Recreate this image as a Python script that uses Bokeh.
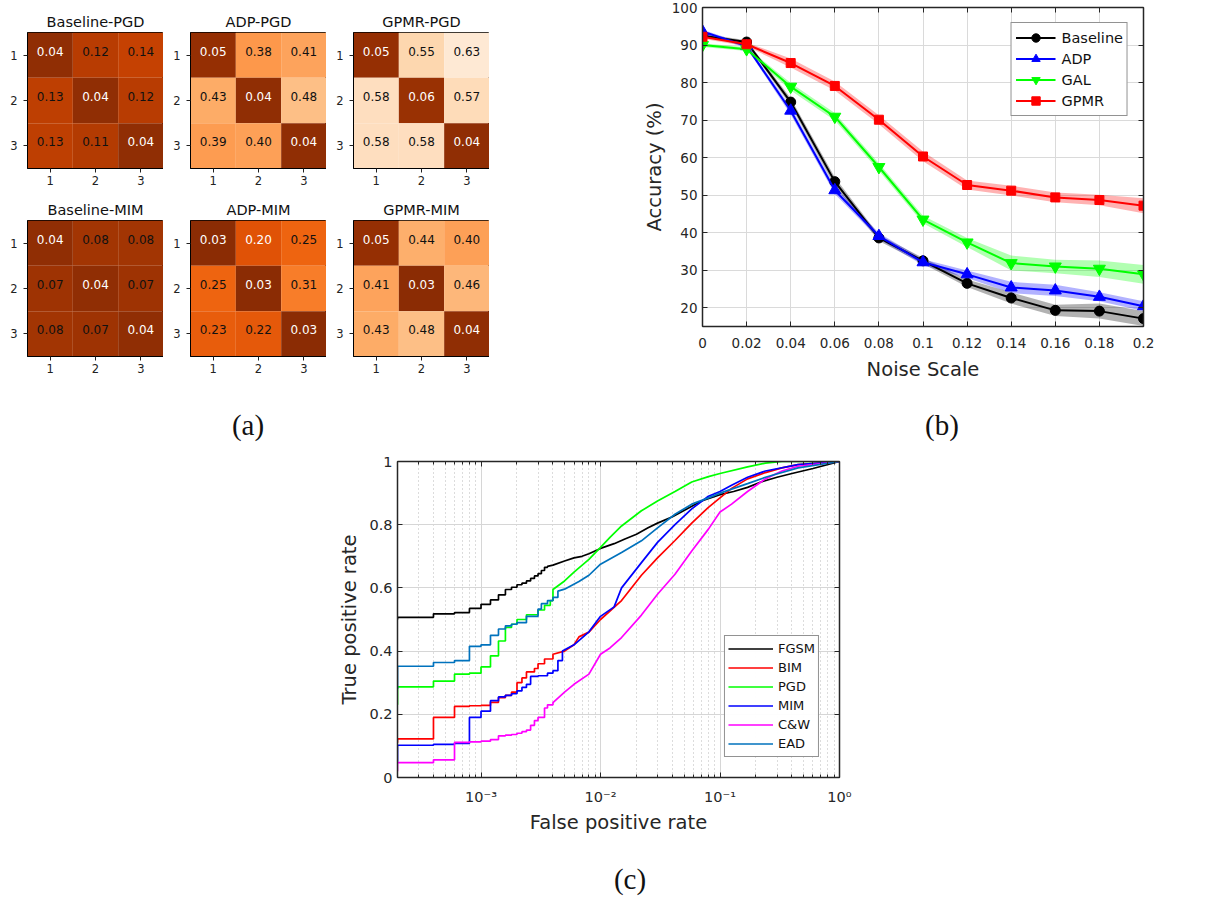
from bokeh.plotting import figure
from bokeh.models import (Range1d, FixedTicker, CustomJSTickFormatter, LinearAxis, LogAxis,
                          ColumnDataSource, Spacer, Div)
from bokeh.layouts import column, row
from bokeh.palettes import Oranges256
from bokeh.transform import linear_cmap
from bokeh.core.properties import value
from bokeh.embed import file_html
from bokeh.resources import INLINE

FONT = "DejaVu Sans"
AX = "#262626"

# ---------------- (a) heatmaps ----------------
hm_titles = ["Baseline-PGD", "ADP-PGD", "GPMR-PGD", "Baseline-MIM", "ADP-MIM", "GPMR-MIM"]
baseline_pgd = [[0.04, 0.12, 0.14], [0.13, 0.04, 0.12], [0.13, 0.11, 0.04]]
adp_pgd = [[0.05, 0.38, 0.41], [0.43, 0.04, 0.48], [0.39, 0.40, 0.04]]
gpmr_pgd = [[0.05, 0.55, 0.63], [0.58, 0.06, 0.57], [0.58, 0.58, 0.04]]
baseline_mim = [[0.04, 0.08, 0.08], [0.07, 0.04, 0.07], [0.08, 0.07, 0.04]]
adp_mim = [[0.03, 0.20, 0.25], [0.25, 0.03, 0.31], [0.23, 0.22, 0.03]]
gpmr_mim = [[0.05, 0.44, 0.40], [0.41, 0.03, 0.46], [0.43, 0.48, 0.04]]
hm_labels = [1, 2, 3]

# ---------------- (b) noise robustness ----------------
noise = [0, 0.02, 0.04, 0.06, 0.08, 0.1, 0.12, 0.14, 0.16, 0.18, 0.2]
acc_baseline = [92.5, 90.8, 74.8, 53.6, 38.6, 32.5, 26.5, 22.6, 19.3, 19.1, 17.1]
acc_adp = [93.6, 89.7, 72.5, 51.3, 39.1, 32.1, 28.9, 25.4, 24.6, 22.9, 20.4]
acc_gal = [90.0, 88.9, 78.9, 70.9, 57.5, 43.5, 37.4, 31.9, 31.0, 30.4, 28.9]
acc_gpmr = [92.2, 90.2, 85.2, 79.1, 70.1, 60.3, 52.7, 51.2, 49.4, 48.7, 47.2]
std_baseline = [0.5, 0.5, 1.0, 1.2, 0.8, 0.8, 1.0, 1.5, 1.5, 2.0, 2.0]
std_adp = [0.5, 0.5, 1.0, 1.0, 0.8, 0.8, 1.0, 1.5, 1.5, 1.2, 1.3]
std_gal = [0.5, 0.5, 1.0, 1.0, 1.0, 1.0, 1.2, 2.0, 1.8, 2.2, 2.5]
std_gpmr = [0.5, 0.5, 1.2, 1.2, 1.2, 1.3, 1.2, 1.3, 1.3, 1.4, 2.0]
acc_ticks = [20, 30, 40, 50, 60, 70, 80, 90, 100]

# ---------------- (c) ROC curves ----------------
fgsm_step_fpr = [2e-4, 2e-4, 4e-4, 6e-4, 8e-4, 1e-3, 1.2e-3, 1.4e-3, 1.6e-3, 1.8e-3, 2e-3, 2.2e-3, 2.4e-3, 2.6e-3, 2.8e-3, 3e-3, 3.2e-3, 3.4e-3, 3.6e-3]
fgsm_step_tpr = [0.50, 0.507, 0.518, 0.522, 0.535, 0.548, 0.562, 0.578, 0.595, 0.602, 0.61, 0.615, 0.622, 0.63, 0.638, 0.645, 0.655, 0.665, 0.668]
fgsm_fpr = [4e-3, 5e-3, 6e-3, 7e-3, 8e-3, 1e-2, 1.3e-2, 1.6e-2, 2e-2, 2.5e-2, 3e-2, 4e-2, 5e-2, 7e-2, 0.1, 0.13, 0.17, 0.22, 0.3, 0.4, 0.6, 1.0]
fgsm_tpr = [0.672, 0.685, 0.695, 0.70, 0.708, 0.725, 0.74, 0.755, 0.77, 0.79, 0.805, 0.825, 0.845, 0.875, 0.895, 0.905, 0.918, 0.935, 0.95, 0.962, 0.978, 1.0]

bim_step_fpr = [2e-4, 2e-4, 4e-4, 6e-4, 8e-4, 1e-3, 1.2e-3, 1.4e-3, 1.6e-3, 1.8e-3, 2e-3, 2.2e-3, 2.4e-3, 2.8e-3, 3e-3, 3.4e-3, 4e-3]
bim_step_tpr = [0.11, 0.122, 0.19, 0.225, 0.227, 0.228, 0.238, 0.253, 0.26, 0.27, 0.30, 0.315, 0.334, 0.345, 0.36, 0.375, 0.39]
bim_fpr = [5e-3, 6e-3, 6.6e-3, 8e-3, 1e-2, 1.5e-2, 2.2e-2, 3e-2, 4.2e-2, 5.8e-2, 8e-2, 0.1, 0.125, 0.17, 0.24, 0.33, 0.45, 1.0]
bim_tpr = [0.40, 0.42, 0.445, 0.46, 0.50, 0.56, 0.64, 0.695, 0.75, 0.805, 0.855, 0.885, 0.915, 0.945, 0.965, 0.98, 0.99, 1.0]

pgd_step_fpr = [2e-4, 2e-4, 4e-4, 6e-4, 8e-4, 1e-3, 1.2e-3, 1.4e-3, 1.6e-3, 1.8e-3, 2e-3, 2.4e-3, 3e-3, 3.4e-3, 3.8e-3, 4e-3]
pgd_step_tpr = [0.23, 0.287, 0.305, 0.327, 0.33, 0.35, 0.385, 0.432, 0.475, 0.485, 0.50, 0.515, 0.53, 0.545, 0.56, 0.595]
pgd_fpr = [5e-3, 6e-3, 8e-3, 1e-2, 1.2e-2, 1.5e-2, 2.2e-2, 3e-2, 4.2e-2, 5.8e-2, 8e-2, 0.1, 0.17, 0.24, 0.33, 1.0]
pgd_tpr = [0.622, 0.65, 0.69, 0.728, 0.76, 0.796, 0.844, 0.875, 0.905, 0.935, 0.952, 0.962, 0.983, 0.995, 1.0, 1.0]

mim_step_fpr = [2e-4, 2e-4, 4e-4, 6e-4, 8e-4, 1e-3, 1.2e-3, 1.4e-3, 1.6e-3, 1.8e-3, 2e-3, 2.2e-3, 2.4e-3, 2.6e-3, 3e-3, 3.6e-3, 4e-3, 4.4e-3, 4.8e-3]
mim_step_tpr = [0.05, 0.102, 0.105, 0.108, 0.19, 0.21, 0.243, 0.255, 0.26, 0.265, 0.274, 0.285, 0.295, 0.32, 0.322, 0.33, 0.338, 0.37, 0.40]
mim_fpr = [6e-3, 8e-3, 1e-2, 1.3e-2, 1.5e-2, 2.2e-2, 3e-2, 4.2e-2, 5.8e-2, 8e-2, 0.1, 0.125, 0.17, 0.24, 0.45, 1.0]
mim_tpr = [0.42, 0.461, 0.51, 0.54, 0.60, 0.68, 0.744, 0.80, 0.85, 0.89, 0.905, 0.925, 0.95, 0.97, 0.99, 1.0]

cw_step_fpr = [2e-4, 2e-4, 4e-4, 6e-4, 8e-4, 1e-3, 1.2e-3, 1.4e-3, 1.6e-3, 1.8e-3, 2e-3, 2.2e-3, 2.4e-3, 2.6e-3, 2.8e-3, 3e-3, 3.4e-3, 3.6e-3, 4e-3]
cw_step_tpr = [0.02, 0.047, 0.056, 0.111, 0.113, 0.115, 0.12, 0.132, 0.134, 0.136, 0.14, 0.145, 0.15, 0.165, 0.18, 0.19, 0.22, 0.23, 0.237]
cw_fpr = [5e-3, 6e-3, 8e-3, 1e-2, 1.2e-2, 1.5e-2, 2.2e-2, 3e-2, 4.2e-2, 5.8e-2, 8e-2, 0.1, 0.125, 0.17, 0.24, 0.33, 0.45, 1.0]
cw_tpr = [0.27, 0.295, 0.327, 0.39, 0.41, 0.443, 0.514, 0.58, 0.643, 0.717, 0.786, 0.84, 0.865, 0.905, 0.945, 0.97, 0.985, 1.0]

ead_step_fpr = [2e-4, 2e-4, 4e-4, 6e-4, 8e-4, 1e-3, 1.2e-3, 1.4e-3, 1.6e-3, 1.8e-3, 2e-3, 2.4e-3, 3e-3, 3.2e-3, 3.6e-3, 4e-3, 4.4e-3]
ead_step_tpr = [0.28, 0.352, 0.364, 0.37, 0.415, 0.42, 0.45, 0.47, 0.48, 0.485, 0.49, 0.51, 0.533, 0.55, 0.56, 0.57, 0.59]
ead_fpr = [5e-3, 6.6e-3, 8e-3, 1e-2, 1.5e-2, 2.2e-2, 3e-2, 4.2e-2, 5.8e-2, 8e-2, 0.1, 0.17, 0.24, 0.45, 1.0]
ead_tpr = [0.596, 0.62, 0.64, 0.675, 0.712, 0.749, 0.79, 0.833, 0.865, 0.885, 0.9, 0.93, 0.95, 0.98, 1.0]

roc_names = ["FGSM", "BIM", "PGD", "MIM", "C&W", "EAD"]
tpr_ticks = [0, 0.2, 0.4, 0.6, 0.8, 1]
fpr_ticks = [1e-3, 1e-2, 1e-1, 1]


def hide_labels(ax):
    """Tick marks only: labels are not painted and take almost no room."""
    ax.formatter = CustomJSTickFormatter(code="return '';")
    ax.major_label_text_font_size = "1px"
    ax.major_label_text_color = None
    ax.major_label_standoff = 0


# ======================= build (a) =======================
def heatmap(title, mat, left, top):
    p = figure(width=left + 136, height=top + 136 + 28, title=title,
               x_range=Range1d(0.5, 3.5), y_range=Range1d(3.5, 0.5),
               toolbar_location=None, output_backend="svg",
               min_border_left=left, min_border_right=0,
               min_border_top=top, min_border_bottom=28)
    p.title.text_font = FONT
    p.title.text_font_size = "14.5px"
    p.title.text_font_style = "normal"
    p.title.align = "center"
    p.title.standoff = 6
    p.title.text_color = "#111111"
    thr = 0.7 * max(max(r) for r in mat)
    cs, rs, vs, ts, tc = [], [], [], [], []
    for i, rr in enumerate(mat):
        for j, v in enumerate(rr):
            cs.append(hm_labels[j]); rs.append(hm_labels[i]); vs.append(v)
            ts.append(f"{v:.2f}")
            tc.append("#ffffff" if v <= thr else "#111111")
    src = ColumnDataSource(dict(c=cs, r=rs, v=vs, t=ts, tc=tc))
    p.rect(x="c", y="r", width=1, height=1, source=src, line_color=None,
           fill_color=linear_cmap("v", Oranges256, 0.0, 0.7))
    p.text(x="c", y="r", text="t", source=src, text_color="tc",
           text_align="center", text_baseline="middle", y_offset=-4,
           text_font=value(FONT), text_font_size="12px")
    p.grid.visible = False
    for ax in (p.xaxis, p.yaxis):
        ax.ticker = FixedTicker(ticks=hm_labels)
        ax.major_tick_out = 4
        ax.major_tick_in = 0
        ax.minor_tick_out = 0
        ax.minor_tick_in = 0
        ax.axis_line_color = "black"
        ax.major_tick_line_color = "#222222"
        ax.major_label_text_font = FONT
        ax.major_label_text_font_size = "11.5px"
        ax.major_label_text_color = "#222222"
        ax.major_label_standoff = 3
    p.yaxis.major_label_standoff = 6
    p.outline_line_color = "black"
    p.outline_line_width = 1
    return p


mats = [baseline_pgd, adp_pgd, gpmr_pgd, baseline_mim, adp_mim, gpmr_mim]
hms = [heatmap(t, m, 27, 32 if k < 3 else 24) for k, (t, m) in enumerate(zip(hm_titles, mats))]
heat_block = column(row(*hms[:3]), row(*hms[3:]))

# ======================= build (b) =======================
pb = figure(width=579, height=384, x_range=Range1d(0, 0.2), y_range=Range1d(15, 100),
            toolbar_location=None, output_backend="svg",
            min_border_left=74, min_border_right=64, min_border_top=7, min_border_bottom=58)

series_b = [("Baseline", acc_baseline, std_baseline, "#000000", "circle", 10),
            ("ADP", acc_adp, std_adp, "#0000ff", "triangle", 12),
            ("GAL", acc_gal, std_gal, "#00ff00", "inverted_triangle", 12),
            ("GPMR", acc_gpmr, std_gpmr, "#ff0000", "square", 9)]
for name, ys, sd, col, mk, sz in series_b:
    lo = [y - s for y, s in zip(ys, sd)]
    hi = [y + s for y, s in zip(ys, sd)]
    pb.varea(x=noise, y1=lo, y2=hi, fill_color=col, fill_alpha=0.3)
for name, ys, sd, col, mk, sz in series_b:
    pb.line(noise, ys, line_color=col, line_width=2, legend_label=name)
    pb.scatter(noise, ys, marker=mk, size=sz, fill_color=col, line_color=col, legend_label=name)

bx, by = pb.below[0], pb.left[0]
bx.ticker = FixedTicker(ticks=noise)
by.ticker = FixedTicker(ticks=acc_ticks)
pb.xgrid.ticker = FixedTicker(ticks=noise)
pb.ygrid.ticker = FixedTicker(ticks=acc_ticks)
bx.formatter = CustomJSTickFormatter(code="return tick.toString();")
bx.axis_label = "Noise Scale"
by.axis_label = "Accuracy (%)"
btop = LinearAxis(ticker=FixedTicker(ticks=noise))
bright = LinearAxis(ticker=FixedTicker(ticks=acc_ticks))
pb.add_layout(btop, "above")
pb.add_layout(bright, "right")
for ax in (bx, by, btop, bright):
    ax.major_tick_in = 5
    ax.major_tick_out = 0
    ax.minor_tick_in = 0
    ax.minor_tick_out = 0
    ax.axis_line_color = AX
    ax.axis_line_width = 1.5
    ax.major_tick_line_color = AX
    ax.major_label_text_font = FONT
    ax.major_label_text_font_size = "13.5px"
    ax.major_label_text_color = AX
    ax.axis_label_text_font = FONT
    ax.axis_label_text_font_size = "19.5px"
    ax.axis_label_text_font_style = "normal"
    ax.axis_label_text_color = AX
bx.major_label_standoff = 11
bx.axis_label_standoff = 7
by.major_label_standoff = 5
by.axis_label_standoff = 3
hide_labels(btop)
hide_labels(bright)
pb.grid.grid_line_color = "#dadada"
pb.grid.grid_line_width = 1
pb.outline_line_color = AX
pb.legend.location = "top_right"
pb.legend.margin = 15
pb.legend.padding = 4
pb.legend.spacing = 0
pb.legend.glyph_width = 40
pb.legend.glyph_height = 21
pb.legend.label_height = 21
pb.legend.label_standoff = 6
pb.legend.label_text_font = FONT
pb.legend.label_text_font_size = "14.5px"
pb.legend.label_text_color = "#111111"
pb.legend.border_line_color = AX
pb.legend.border_line_width = 1.5
pb.legend.background_fill_alpha = 1

# ======================= build (c) =======================
def roc_path(step_f, step_t, tail_f, tail_t):
    xs, ys = [step_f[0]], [step_t[0]]
    for f, t in zip(step_f[1:], step_t[1:]):
        xs += [f, f]
        ys += [ys[-1], t]
    return xs + list(tail_f), ys + list(tail_t)


pc = figure(width=539, height=393, x_axis_type="log",
            x_range=Range1d(2e-4, 1), y_range=Range1d(0, 1),
            toolbar_location=None, output_backend="svg",
            min_border_left=77, min_border_right=20, min_border_top=17, min_border_bottom=60)

roc_data = [(fgsm_step_fpr, fgsm_step_tpr, fgsm_fpr, fgsm_tpr, "#000000"),
            (bim_step_fpr, bim_step_tpr, bim_fpr, bim_tpr, "#ff0000"),
            (pgd_step_fpr, pgd_step_tpr, pgd_fpr, pgd_tpr, "#00ff00"),
            (mim_step_fpr, mim_step_tpr, mim_fpr, mim_tpr, "#0000ff"),
            (cw_step_fpr, cw_step_tpr, cw_fpr, cw_tpr, "#ff00ff"),
            (ead_step_fpr, ead_step_tpr, ead_fpr, ead_tpr, "#0072bd")]
for name, (sf, st, tf, tt, col) in zip(roc_names, roc_data):
    xs, ys = roc_path(sf, st, tf, tt)
    pc.line(xs, ys, line_color=col, line_width=1.7, legend_label=name)

minor = [m * 10.0 ** k for k in range(-4, 0) for m in range(2, 10) if m * 10.0 ** k >= 2e-4]
xt = FixedTicker(ticks=fpr_ticks, minor_ticks=minor)
yt = FixedTicker(ticks=tpr_ticks)
cx, cy = pc.below[0], pc.left[0]
cx.ticker = xt
pc.xgrid.ticker = xt
cy.ticker = yt
pc.ygrid.ticker = yt
sup_code = """
const e = Math.round(Math.log10(tick));
const sup = {'-': '\u207b', '0': '\u2070', '1': '\u00b9', '2': '\u00b2', '3': '\u00b3', '4': '\u2074'};
return '10' + String(e).split('').map(c => sup[c]).join('');
"""
cx.formatter = CustomJSTickFormatter(code=sup_code)
cy.formatter = CustomJSTickFormatter(code="return tick.toString();")
cx.axis_label = "False positive rate"
cy.axis_label = "True positive rate"
ctop = LogAxis(ticker=xt)
cright = LinearAxis(ticker=yt)
pc.add_layout(ctop, "above")
pc.add_layout(cright, "right")
for ax in (cx, cy, ctop, cright):
    ax.major_tick_in = 5
    ax.major_tick_out = 0
    ax.minor_tick_in = 3
    ax.minor_tick_out = 0
    ax.axis_line_color = AX
    ax.axis_line_width = 1.5
    ax.major_tick_line_color = AX
    ax.minor_tick_line_color = AX
    ax.major_label_text_font = FONT
    ax.major_label_text_font_size = "14.5px"
    ax.major_label_text_color = AX
    ax.axis_label_text_font = FONT
    ax.axis_label_text_font_size = "19.5px"
    ax.axis_label_text_font_style = "normal"
    ax.axis_label_text_color = AX
cy.minor_tick_in = 0
cright.minor_tick_in = 0
cx.major_label_standoff = 11
cx.axis_label_standoff = 3
cy.major_label_standoff = 5
cy.axis_label_standoff = 5
hide_labels(ctop)
hide_labels(cright)
pc.xgrid.grid_line_color = "#d6d6d6"
pc.ygrid.grid_line_color = "#d6d6d6"
pc.xgrid.minor_grid_line_color = "#b8b8b8"
pc.xgrid.minor_grid_line_dash = "1 3"
pc.outline_line_color = AX
pc.legend.location = "bottom_right"
pc.legend.margin = 20
pc.legend.padding = 3
pc.legend.spacing = 0
pc.legend.glyph_width = 45
pc.legend.glyph_height = 19
pc.legend.label_height = 19
pc.legend.label_standoff = 5
pc.legend.label_text_font = FONT
pc.legend.label_text_font_size = "13px"
pc.legend.label_text_color = "#111111"
pc.legend.border_line_color = AX
pc.legend.border_line_width = 1.5


# ======================= labels & layout =======================
def sub_label(txt, pad, h):
    html = ('<div style="font-family:\'Liberation Serif\',serif; font-size:29px; line-height:29px; '
            f'padding-top:{pad}px; text-align:center; width:100px; color:#111;">{txt}</div>')
    return Div(text=html, width=100, height=h, margin=0)


layout = column(
    row(heat_block, Spacer(width=139, height=10), pb),
    row(Spacer(width=198, height=60), sub_label("(a)", 27, 60),
        Spacer(width=594, height=60), sub_label("(b)", 27, 60)),
    row(Spacer(width=320, height=10), pc),
    row(Spacer(width=580, height=60), sub_label("(c)", 28, 60)),
)

open("out.html", "w").write(file_html(layout, INLINE))
